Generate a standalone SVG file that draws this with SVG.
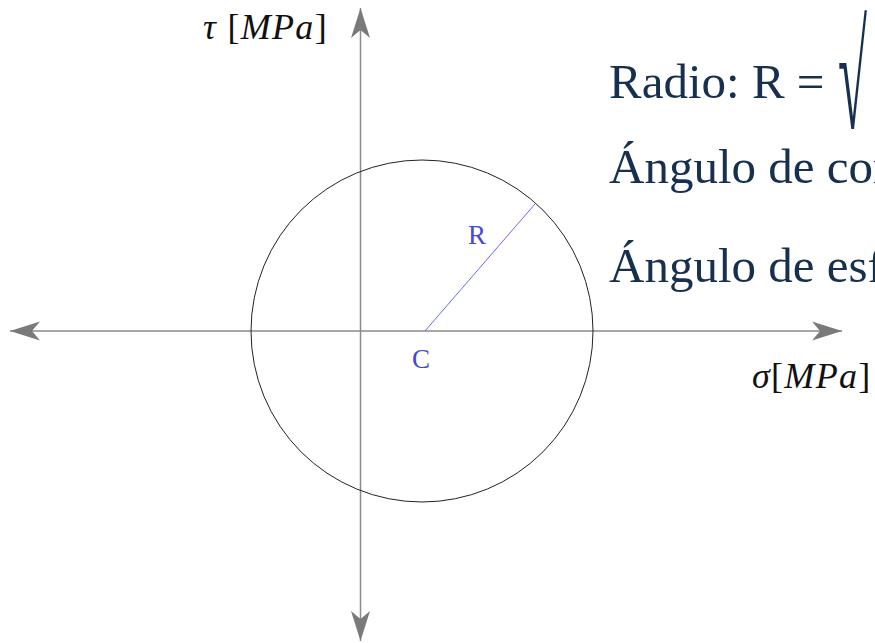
<svg xmlns="http://www.w3.org/2000/svg" width="875" height="643" viewBox="0 0 875 643">
<style>
.axis{stroke:#8a8a8a;stroke-width:1.5;fill:none}
.circ{stroke:#222;stroke-width:1;fill:none}
.rad{stroke:#6a6af0;stroke-width:1;fill:none}
.lbl{font-family:"Liberation Serif",serif;font-size:27px;fill:#4848d8}
.ax{font-family:"Liberation Serif",serif;font-size:36px;fill:#111;letter-spacing:1.3px}
.eq{font-family:"Liberation Serif",serif;font-size:49px;fill:#17304f}
</style>
<defs>
<marker id="ah" viewBox="0 0 30 20" refX="30" refY="10" markerWidth="30" markerHeight="20" markerUnits="userSpaceOnUse" orient="auto">
<path d="M30,10 L0,0.5 L8,10 L0,19.5 Z" fill="#7a7a7a"/>
</marker>
</defs>
<g id="connectors">
<line class="axis" x1="360" y1="331" x2="10" y2="331" marker-end="url(#ah)"/>
<line class="axis" x1="360" y1="331" x2="842" y2="331" marker-end="url(#ah)"/>
<line class="axis" x1="360.5" y1="331" x2="360.5" y2="8" marker-end="url(#ah)"/>
<line class="axis" x1="360.5" y1="331" x2="360.5" y2="641" marker-end="url(#ah)"/>
<line class="rad" x1="425" y1="331" x2="535" y2="204"/>
</g>
<g id="circle">
<circle class="circ" cx="422" cy="331" r="171"/>
</g>
<g id="labels">
<text class="lbl" x="477" y="244" text-anchor="middle">R</text>
<text class="lbl" x="421" y="368" text-anchor="middle">C</text>
<text class="ax" x="203" y="39"><tspan font-style="italic">τ</tspan> [<tspan font-style="italic">MPa</tspan>]</text>
<text class="ax" x="752" y="388"><tspan font-style="italic">σ</tspan>[<tspan font-style="italic">MPa</tspan>]</text>
</g>
<g id="equations">
<text class="eq" x="609" y="98">Radio: R = </text>
<text class="eq" transform="translate(838,128) scale(1.1,3.1)" style="font-size:48px">√</text>
<text class="eq" x="609" y="183">Ángulo de cor</text>
<text class="eq" x="609" y="282">Ángulo de esf</text>
</g>
</svg>
